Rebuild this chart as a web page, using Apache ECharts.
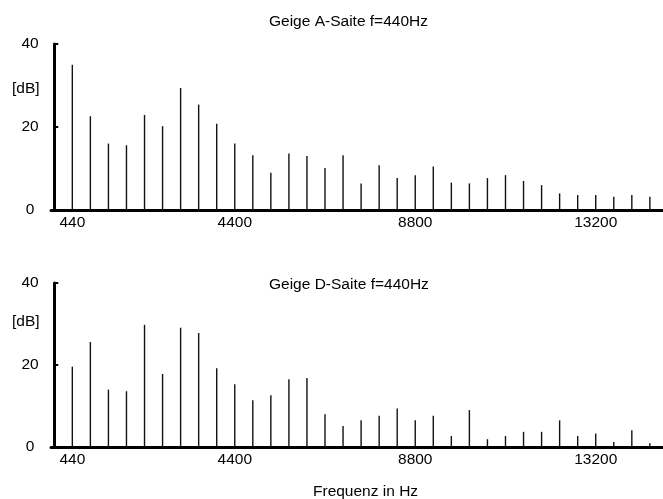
<!DOCTYPE html>
<html>
<head>
<meta charset="utf-8">
<script src="https://cdn.jsdelivr.net/npm/echarts@6/dist/echarts.min.js"></script>
<style>
html,body{margin:0;padding:0;background:#fff;}
#chart{width:663px;height:499px;}
</style>
</head>
<body>
<div id="chart"></div>
<script>
const frequencies = [440, 880, 1320, 1760, 2200, 2640, 3080, 3520, 3960, 4400,
  4840, 5280, 5720, 6160, 6600, 7040, 7480, 7920, 8360, 8800,
  9240, 9680, 10120, 10560, 11000, 11440, 11880, 12320, 12760, 13200,
  13640, 14080, 14520];
const aSaiteDb = [35, 22.6, 16, 15.6, 22.9, 20.2, 29.4, 25.4, 20.8, 16,
  13.2, 9, 13.6, 13, 10.1, 13.2, 6.4, 10.8, 7.7, 8.4,
  10.5, 6.6, 6.4, 7.7, 8.4, 7, 6, 4, 3.6, 3.6,
  3.2, 3.6, 3.2];
const dSaiteDb = [19.6, 25.6, 14, 13.6, 29.8, 17.8, 29.1, 27.8, 19.2, 15.3,
  11.4, 12.6, 16.5, 16.8, 8, 5.1, 6.5, 7.6, 9.4, 6.5,
  7.6, 2.7, 9, 1.9, 2.7, 3.7, 3.7, 6.5, 2.7, 3.3,
  1.2, 4.1, 0.9];
const xTickLabels = [440, 4400, 8800, 13200];
const yTickLabels = [0, 20, 40];
const titleA = 'Geige A-Saite f=440Hz';
const titleD = 'Geige D-Saite f=440Hz';
const yUnit = '[dB]';
const xName = 'Frequenz in Hz';

const FONT = 'Liberation Sans, Arial, sans-serif';
const textColor = '#000';
const FS = 15.5;

function xAxisFor(gridIndex) {
  return {
    type: 'value', gridIndex: gridIndex, min: -80, max: 14840,
    axisLine: { show: true, onZero: false, lineStyle: { color: '#000', width: 3 } },
    axisTick: { show: false },
    splitLine: { show: false },
    axisLabel: {
      customValues: xTickLabels,
      formatter: v => String(v),
      margin: 5, color: textColor, fontFamily: FONT, fontSize: FS
    }
  };
}
function yAxisFor(gridIndex) {
  return {
    type: 'value', gridIndex: gridIndex, min: 0, max: 40, interval: 20,
    axisLine: { show: true, lineStyle: { color: '#000', width: 3 } },
    axisTick: { show: true, inside: true, length: 4, lineStyle: { color: '#000', width: 2 } },
    splitLine: { show: false },
    axisLabel: {
      customValues: yTickLabels,
      formatter: v => String(v),
      align: 'center', margin: 21, color: textColor, fontFamily: FONT, fontSize: FS
    }
  };
}
function pairs(vals) { return frequencies.map((f, i) => [f, vals[i]]); }
function txt(text, left, top) {
  return { text: text, left: left, top: top, padding: 0,
    textStyle: { fontFamily: FONT, fontSize: FS, fontWeight: 'normal', color: textColor } };
}

const chart = echarts.init(document.getElementById('chart'), null, { renderer: 'canvas' });
chart.setOption({
  animation: false,
  backgroundColor: '#fff',
  title: [
    txt(titleA, 269, 14),
    txt(titleD, 269, 277),
    txt(yUnit, 12, 81),
    txt(yUnit, 12, 314),
    txt(xName, 313, 484)
  ],
  grid: [
    { left: 51, top: 44, width: 612, height: 166 },
    { left: 51, top: 283, width: 612, height: 164 }
  ],
  xAxis: [xAxisFor(0), xAxisFor(1)],
  yAxis: [yAxisFor(0), yAxisFor(1)],
  series: [
    { type: 'bar', xAxisIndex: 0, yAxisIndex: 0, barWidth: 1.4,
      itemStyle: { color: '#111' }, data: pairs(aSaiteDb) },
    { type: 'bar', xAxisIndex: 1, yAxisIndex: 1, barWidth: 1.4,
      itemStyle: { color: '#111' }, data: pairs(dSaiteDb) }
  ]
});
</script>
</body>
</html>
